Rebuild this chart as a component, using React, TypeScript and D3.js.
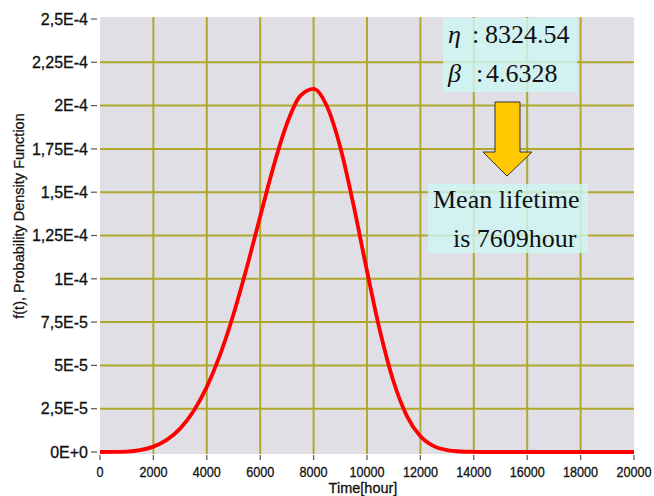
import React from "react";
import * as d3 from "d3";

// ---- data ----
const hours = [
  0, 500, 1000, 1500, 2000, 2500, 3000, 3500, 4000, 4500, 5000, 5500, 6000, 6500,
  7000, 7500, 8000, 8500, 9000, 9500, 10000, 10500, 11000, 11500, 12000, 12500,
  13000, 13500, 14000, 14500, 15000, 16000, 17000, 18000, 19000, 20000,
];
const pdfValues = [
  0, 0.00000002, 0.00000025, 0.0000011, 0.0000031, 0.000007, 0.0000135, 0.0000235,
  0.0000376, 0.0000562, 0.0000795, 0.0001066, 0.000136, 0.0001649, 0.0001895,
  0.0002056, 0.0002097, 0.0001996, 0.0001759, 0.0001422, 0.0001045, 0.000069,
  0.0000404, 0.0000206, 0.0000091, 0.0000034, 0.0000011, 0.0000003, 0.0000001,
  0, 0, 0, 0, 0, 0, 0,
];
const xTickValues = [0, 2000, 4000, 6000, 8000, 10000, 12000, 14000, 16000, 18000, 20000];
const yTickValues = [0, 0.000025, 0.00005, 0.000075, 0.0001, 0.000125, 0.00015, 0.000175, 0.0002, 0.000225, 0.00025];
const yTickLabels = ["0E+0", "2,5E-5", "5E-5", "7,5E-5", "1E-4", "1,25E-4", "1,5E-4", "1,75E-4", "2E-4", "2,25E-4", "2,5E-4"];
const xTitle = "Time[hour]";
const yTitle = "f(t), Probability Density Function";
const etaLabel = "η";
const etaValue = "8324.54";
const betaLabel = "β";
const betaValue = "4.6328";
const noteLine1 = "Mean lifetime";
const noteLine2 = "is 7609hour";

const W = 654;
const H = 496;
const left = 100, right = 634, top = 17, bottom = 454;

const axisFont = "'Liberation Sans', Arial, sans-serif";
const serif = "'Liberation Serif', 'DejaVu Serif', serif";
const gridColor = "#b0a82c";

export default function App() {
  const x = d3.scaleLinear().domain([0, 20000]).range([left, right]);
  const y = d3.scaleLinear().domain([0, 0.00025]).range([452, 19]);
  const pts = hours.map((h, i) => [h, pdfValues[i]] as [number, number]);
  const line = d3
    .line<[number, number]>()
    .x((d) => x(d[0]))
    .y((d) => y(d[1]))
    .curve(d3.curveMonotoneX);

  return (
    <svg
      width={W}
      height={H}
      style={{ position: "absolute", left: 0, top: 0, background: "#fff" }}
    >
      <rect x={left} y={top} width={right - left} height={bottom - top} fill="#e0dfe6" />
      {/* grid */}
      {xTickValues.slice(1, -1).map((v) => (
        <line key={"gx" + v} x1={x(v)} x2={x(v)} y1={top} y2={bottom} stroke={gridColor} strokeWidth={2} />
      ))}
      {yTickValues.slice(1, -1).map((v) => (
        <line key={"gy" + v} x1={left} x2={right} y1={y(v)} y2={y(v)} stroke={gridColor} strokeWidth={2} />
      ))}
      {/* y axis ticks */}
      {yTickValues.map((v, i) => (
        <g key={"yt" + v}>
          <line x1={91} x2={97} y1={y(v)} y2={y(v)} stroke="#555" strokeWidth={1.2} />
          <text
            x={88}
            y={y(v)}
            dy="0.36em"
            textAnchor="end"
            fontFamily={axisFont}
            fontSize={16}
            fill="#111"
            stroke="#111"
            strokeWidth={0.3}
          >
            {yTickLabels[i]}
          </text>
        </g>
      ))}
      {/* x axis ticks */}
      {xTickValues.map((v) => (
        <g key={"xt" + v}>
          <line x1={x(v)} x2={x(v)} y1={455} y2={460} stroke="#555" strokeWidth={1.2} />
          <text
            transform={`translate(${x(v)}, 477) scale(0.9, 1)`}
            textAnchor="middle"
            fontFamily={axisFont}
            fontSize={14}
            fill="#111"
            stroke="#111"
            strokeWidth={0.3}
          >
            {v}
          </text>
        </g>
      ))}
      <text x={363} y={493} textAnchor="middle" fontFamily={axisFont} fontSize={14.5} fill="#111" stroke="#111" strokeWidth={0.3}>
        {xTitle}
      </text>
      <text
        transform={`translate(24, 216) rotate(-90)`}
        textAnchor="middle"
        fontFamily={axisFont}
        fontSize={14.5}
        fill="#111"
        stroke="#111"
        strokeWidth={0.25}
      >
        {yTitle}
      </text>
      {/* curve */}
      <path d={line(pts) || ""} fill="none" stroke="#ff0000" strokeWidth={3.8} strokeLinejoin="round" />

      {/* annotation boxes */}
      <rect x={443} y={18} width={134} height={74} fill="#cef6f5" opacity={0.8} />
      <text x={448} y={43} fontFamily={serif} fontSize={26} fontStyle="italic" fill="#111">{etaLabel}</text>
      <text x={472} y={43} fontFamily={serif} fontSize={26} fill="#111">:</text>
      <text x={485} y={43} fontFamily={serif} fontSize={26} fill="#111">{etaValue}</text>
      <text x={448} y={82} fontFamily={serif} fontSize={26} fontStyle="italic" fill="#111">{betaLabel}</text>
      <text x={476} y={82} fontFamily={serif} fontSize={26} fill="#111">:</text>
      <text x={486} y={82} fontFamily={serif} fontSize={26} fill="#111">{betaValue}</text>

      <path
        d="M495,102 L520,102 L520,152 L532,152 L507,176 L483,152 L495,152 Z"
        fill="#ffc800"
        stroke="#333"
        strokeWidth={1}
        strokeLinejoin="miter"
      />

      <rect x={428} y={184} width={160} height={69} fill="#cef6f5" opacity={0.8} />
      <text x={433} y={208} fontFamily={serif} fontSize={26} fill="#111">{noteLine1}</text>
      <text x={453} y={247} fontFamily={serif} fontSize={26} fill="#111">{noteLine2}</text>
    </svg>
  );
}
